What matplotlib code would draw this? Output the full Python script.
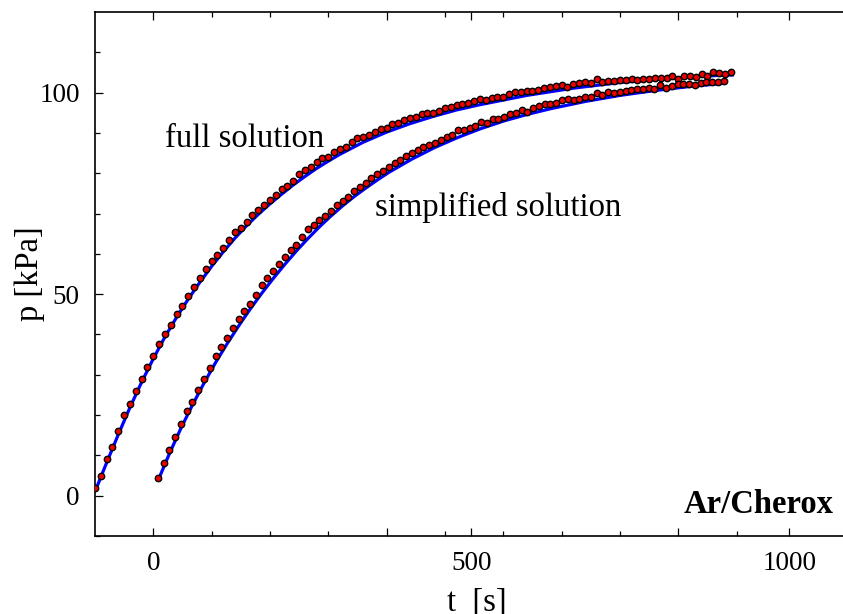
import matplotlib
matplotlib.use('Agg')
import matplotlib.pyplot as plt
import numpy as np
from matplotlib.ticker import FixedLocator, FixedFormatter

plt.rcParams['font.family'] = ['Liberation Serif', 'DejaVu Serif']

# ---- measured data (full solution) ----
full_t_start = -91.7
full_t_step = 9.17
full_p = [1.9, 4.9, 9.1, 12.1, 16.1, 19.9, 22.8, 25.9, 29.0, 31.9,
          34.7, 37.7, 40.2, 42.4, 45.2, 47.1, 49.5, 51.8, 53.9, 56.2,
          58.2, 59.8, 61.4, 63.4, 65.3, 66.5, 68.0, 69.7, 70.9, 72.1,
          73.3, 74.7, 76.1, 76.8, 78.1, 79.7, 80.7, 81.6, 82.8, 83.9,
          84.0, 85.2, 86.0, 86.4, 87.8, 88.7, 88.9, 89.5, 90.2, 91.0,
          91.1, 92.2, 92.5, 93.2, 93.6, 94.0, 94.6, 94.9, 95.0, 95.5,
          96.2, 96.5, 96.9, 97.1, 97.4, 98.0, 98.3, 98.2, 98.7, 98.8,
          98.9, 99.6, 100.2, 100.1, 100.4, 100.5, 100.7, 101.2, 101.5, 101.7,
          101.8, 101.5, 102.2, 102.5, 102.7, 102.3, 103.3, 102.7, 103.0, 103.0,
          103.1, 103.2, 103.4, 103.2, 103.5, 103.5, 103.6, 103.7, 103.6, 104.0,
          103.4, 104.0, 104.2, 103.9, 104.5, 104.2, 105.0, 104.8, 104.5, 105.0]

# ---- measured data (simplified solution) ----
simp_t_start = 7.0
simp_t_step = 9.08
simp_p = [4.4, 8.1, 11.4, 14.6, 17.7, 20.9, 23.2, 26.1, 28.9, 31.8,
          34.6, 36.8, 39.2, 41.7, 43.8, 45.7, 47.5, 49.9, 52.2, 54.0,
          55.8, 57.5, 59.3, 60.9, 62.2, 64.1, 66.1, 67.2, 68.4, 69.5,
          70.6, 72.0, 73.1, 74.2, 75.7, 76.5, 77.7, 78.7, 79.7, 80.6,
          81.6, 82.6, 83.3, 84.2, 85.0, 85.8, 86.4, 87.1, 87.5, 88.3,
          89.0, 89.4, 90.7, 90.7, 91.3, 91.7, 92.6, 92.5, 93.4, 93.5,
          93.9, 94.7, 94.9, 95.6, 95.3, 96.2, 96.8, 97.1, 97.2, 97.3,
          98.2, 98.3, 98.2, 98.5, 98.8, 98.8, 99.9, 99.4, 100.2, 99.8,
          100.1, 100.4, 100.7, 101.0, 100.8, 101.1, 100.9, 102.0, 101.2, 101.7,
          102.1, 102.2, 102.2, 101.9, 102.4, 102.7, 102.6, 102.6, 103.0]

# ---- model curves ----
full_fit_t = [-91.7, -73.4, -55.0, -36.7, -18.3, 0.0, 18.3, 36.7, 55.0, 73.4,
              91.7, 110.0, 128.4, 146.7, 165.1, 183.4, 201.7, 220.1, 238.4, 256.8,
              275.1, 293.4, 330.1, 366.8, 403.5, 440.2, 476.8, 513.5, 586.9, 660.2,
              733.6, 807.0, 880.3, 913.0]
full_fit_p = [1.0, 8.2, 15.2, 21.9, 28.2, 34.0, 39.4, 44.3, 48.8, 53.0,
              56.9, 60.5, 63.9, 67.0, 69.8, 72.4, 74.8, 77.1, 79.2, 81.2,
              83.0, 84.7, 87.7, 90.2, 92.3, 94.1, 95.7, 97.0, 99.3, 101.1,
              102.5, 103.5, 104.2, 104.4]
simp_fit_t = [7.0, 25.2, 43.3, 61.5, 79.6, 97.8, 116.0, 134.1, 152.3, 170.4,
              188.6, 206.8, 224.9, 243.1, 261.2, 279.4, 297.6, 315.7, 333.9, 352.0,
              370.2, 406.5, 442.8, 479.2, 515.5, 551.8, 588.1, 624.4, 678.9, 733.4,
              787.9, 842.4, 896.8]
simp_fit_p = [3.6, 10.4, 16.7, 22.5, 27.9, 33.0, 37.7, 42.1, 46.3, 50.2,
              53.9, 57.4, 60.7, 63.8, 66.7, 69.4, 71.9, 74.2, 76.3, 78.3,
              80.2, 83.5, 86.4, 88.9, 91.1, 93.0, 94.6, 96.0, 97.8, 99.3,
              100.5, 101.5, 102.3]

x_major = [0, 366.8, 500, 825.3, 1000]
x_major_labels = ['0', '', '500', '', '1000']
x_minor = [91.7, 183.4, 275.1, 458.5, 550.2, 641.9, 733.6, 917.0]
y_major = [0, 50, 100]
y_minor = [-10, 10, 20, 30, 40, 60, 70, 80, 90, 110]

full_t = full_t_start + full_t_step * np.arange(len(full_p))
simp_t = simp_t_start + simp_t_step * np.arange(len(simp_p))

fig = plt.figure(figsize=(8.43, 6.14), dpi=100)
ax = fig.add_axes([95 / 843, 1 - 536 / 614, 748 / 843, 524 / 614])

ax.plot(full_fit_t, full_fit_p, color='#0000ff', lw=2.3, zorder=2, solid_capstyle='butt')
ax.plot(simp_fit_t, simp_fit_p, color='#0000ff', lw=2.3, zorder=2, solid_capstyle='butt')
mk = dict(ls='none', marker='o', ms=4.6, mfc='#ee0000', mec='black', mew=1.0, zorder=3)
ax.plot(full_t, full_p, **mk)
ax.plot(simp_t, simp_p, **mk)

ax.set_xlim(-91.7, -91.7 + 748 / 0.636)
ax.set_ylim(-10, 120)

ax.xaxis.set_major_locator(FixedLocator(x_major))
ax.xaxis.set_major_formatter(FixedFormatter(x_major_labels))
ax.xaxis.set_minor_locator(FixedLocator(x_minor))
ax.yaxis.set_major_locator(FixedLocator(y_major))
ax.yaxis.set_minor_locator(FixedLocator(y_minor))

ax.tick_params(which='both', direction='in', top=True, right=False, labelsize=19.5, width=0.9, pad=11)
ax.tick_params(which='major', length=6)
ax.tick_params(which='minor', length=3.7)
for s in ['left', 'bottom', 'top']:
    ax.spines[s].set_linewidth(1.2)
ax.spines['right'].set_visible(False)

ax.set_xlabel('t  [s]', fontsize=23.5)
ax.set_ylabel('p [kPa]', fontsize=23.5)
ax.xaxis.set_label_coords(0.511, -0.098)
ax.yaxis.set_label_coords(-0.067, 0.5)

ax.text(18.9, 86.5, 'full solution', fontsize=23.5, ha='left', va='baseline')
ax.text(349, 69.4, 'simplified solution', fontsize=23.5, ha='left', va='baseline')
ax.text(1069, -4.3, 'Ar/Cherox', fontsize=23.5, fontweight='bold', ha='right', va='baseline')

fig.savefig('out.png', dpi=100)
